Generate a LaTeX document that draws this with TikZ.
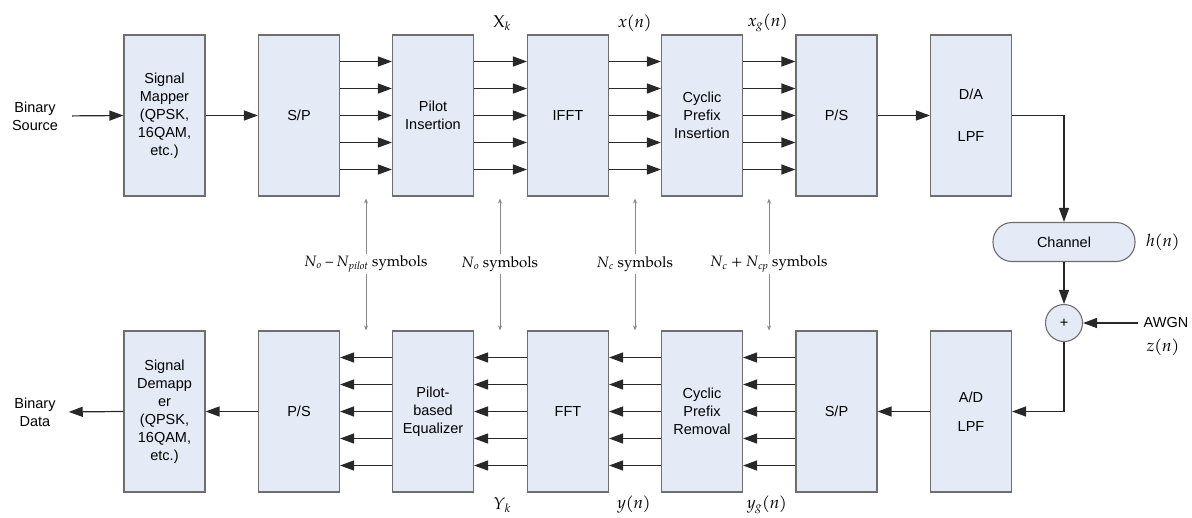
\documentclass[tikz,border=0pt]{standalone}
\usepackage{fontspec}
\newfontfamily\boxfont{Liberation Sans}
\newfontfamily\pal[Ligatures=TeX]{TeX Gyre Pagella}
\usetikzlibrary{arrows.meta,calc}
\definecolor{boxfill}{RGB}{228,235,246}
\definecolor{boxline}{RGB}{110,110,110}
\definecolor{arrline}{RGB}{40,40,40}
\definecolor{garrline}{RGB}{135,135,135}
\newcommand\vi[1]{\textit{#1}}
\newcommand\vsub[1]{\textsubscript{\textit{#1}}}
\begin{document}
\begin{tikzpicture}[x=1pt,y=-1pt,
  blk/.style={draw=boxline,fill=boxfill,line width=1.1pt,minimum width=81pt,minimum height=161pt,inner sep=0pt,align=center,font=\boxfont\fontsize{14.5}{18}\selectfont},
  arr/.style={draw=arrline,line width=1.2pt,-{Triangle[length=14pt,width=10pt]}},
  garr/.style={draw=garrline,line width=0.8pt,-{Stealth[length=5pt,width=4pt]}},
  sig/.style={font=\pal\fontsize{17}{20}\selectfont,inner sep=1pt},
  lbl/.style={font=\pal\fontsize{15}{18}\selectfont,inner sep=2pt},
  txt/.style={font=\boxfont\fontsize{14.5}{18}\selectfont,align=center,inner sep=2pt}
]
\useasboundingbox (0,0) rectangle (1192,517);

% transmitter
\node[blk] (map)  at (164.5,115.5) {Signal\\Mapper\\(QPSK,\\16QAM,\\etc.)};
\node[blk] (sp1)  at (299,115.5) {S/P};
\node[blk] (pil)  at (433,115.5) {Pilot\\Insertion};
\node[blk] (ifft) at (568,115.5) {IFFT};
\node[blk] (cpi)  at (702,115.5) {Cyclic\\Prefix\\Insertion};
\node[blk] (ps1)  at (836.5,115.5) {P/S};
\node[blk] (da)   at (971,115.5) {D/A\\[24pt]LPF};

% receiver
\node[blk] (dem)  at (164.5,411.5) {Signal\\Demapp\\er\\(QPSK,\\16QAM,\\etc.)};
\node[blk] (ps2)  at (299,411.5) {P/S};
\node[blk] (equ)  at (433,411.5) {Pilot-\\based\\Equalizer};
\node[blk] (fft)  at (568,411.5) {FFT};
\node[blk] (cpr)  at (702,411.5) {Cyclic\\Prefix\\Removal};
\node[blk] (sp2)  at (836.5,411.5) {S/P};
\node[blk] (ad)   at (971,411.5) {A/D\\[11pt]LPF};

% channel
\node[draw=boxline,fill=boxfill,line width=1.1pt,rounded corners=19pt,minimum width=142pt,minimum height=39pt,inner sep=0pt,font=\boxfont\fontsize{14.5}{18}\selectfont] (ch) at (1064,242) {Channel};
\node[circle,draw=boxline,fill=boxfill,line width=1.1pt,minimum size=37pt,inner sep=0pt,font=\boxfont\fontsize{14.5}{18}\selectfont] (add) at (1064,323) {+};

% texts
\node[txt] (src) at (35,116) {Binary\\Source};
\node[txt] (dat) at (35,412) {Binary\\Data};
\node[txt] (awgn) at (1166,323) {AWGN};
\node[sig] (zn) at (1163,347) {\vi{z}(\vi{n})};
\node[sig] (hn) at (1163,242) {\vi{h}(\vi{n})};

\node[sig] (xk)  at (502,23) {X\vsub{k}};
\node[sig] (xn)  at (635,23) {\vi{x}(\vi{n})};
\node[sig] (xgn) at (768,23) {\vi{x}\vsub{g}(\vi{n})};
\node[sig] (yk)  at (502,505) {\vi{Y}\vsub{k}};
\node[sig] (yn)  at (634,505) {\vi{y}(\vi{n})};
\node[sig] (ygn) at (767,505) {\vi{y}\vsub{g}(\vi{n})};

\node[lbl] (n1) at (366,264) {\vi{N}\vsub{o} – \vi{N}\vsub{pilot} symbols};
\node[lbl] (n2) at (500,264) {\vi{N}\vsub{o} symbols};
\node[lbl] (n3) at (635,264) {\vi{N}\vsub{c} symbols};
\node[lbl] (n4) at (769,264) {\vi{N}\vsub{c} + \vi{N}\vsub{cp} symbols};

% transmitter connectors
\draw[arr,shorten <=12pt] (src.east) -- (map.west);
\draw[arr] (map) -- (sp1);
\foreach \d in {-54,-27,0,27,54} {
  \draw[arr] ([yshift=\d pt]sp1.east) -- ([yshift=\d pt]pil.west);
  \draw[arr] ([yshift=\d pt]pil.east) -- ([yshift=\d pt]ifft.west);
  \draw[arr] ([yshift=\d pt]ifft.east) -- ([yshift=\d pt]cpi.west);
  \draw[arr] ([yshift=\d pt]cpi.east) -- ([yshift=\d pt]ps1.west);
  \draw[arr] ([yshift=\d pt]sp2.west) -- ([yshift=\d pt]cpr.east);
  \draw[arr] ([yshift=\d pt]cpr.west) -- ([yshift=\d pt]fft.east);
  \draw[arr] ([yshift=\d pt]fft.west) -- ([yshift=\d pt]equ.east);
  \draw[arr] ([yshift=\d pt]equ.west) -- ([yshift=\d pt]ps2.east);
}
\draw[arr] (ps1) -- (da);
\draw[arr] (da.east) -| (ch.north);
\draw[arr] (ch) -- (add);
\draw[arr,shorten <=4pt] (awgn.west) -- (add.east);
\draw[arr] (add.south) |- (ad.east);
\draw[arr] (ad) -- (sp2);
\draw[arr] (ps2) -- (dem);
\draw[arr,shorten >=11pt] (dem.west) -- (dat.east);

% symbol-count pointers
\foreach \n in {n1,n2,n3,n4} {
  \draw[garr] (\n.north) -- ([yshift=-2pt]\n.center |- sp1.south);
  \draw[garr] (\n.south) -- (\n.center |- ps2.north);
}
\end{tikzpicture}
\end{document}
